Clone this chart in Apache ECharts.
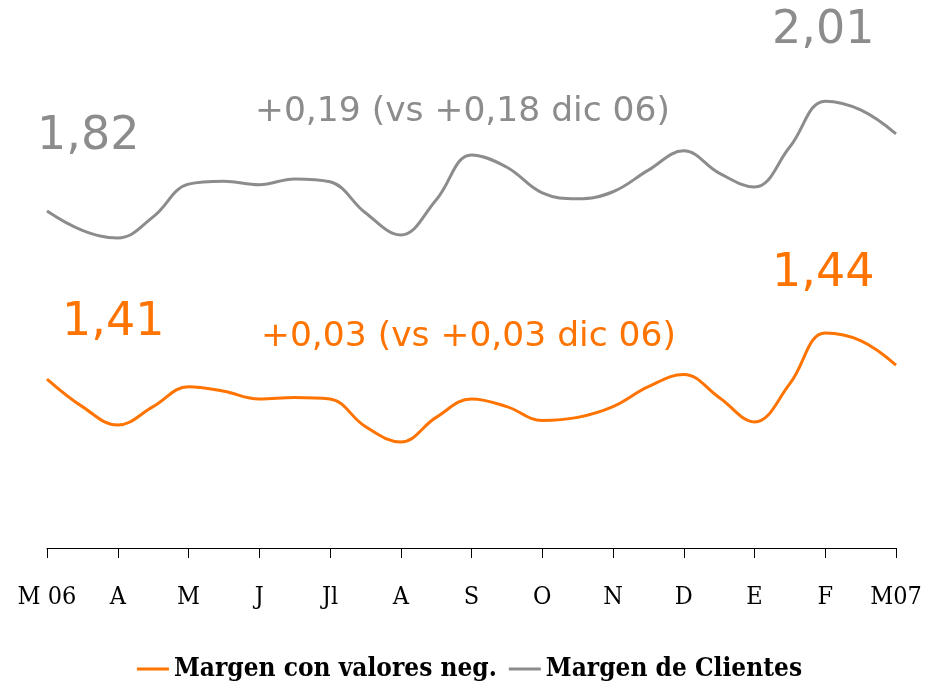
<!DOCTYPE html>
<html>
<head>
<meta charset="utf-8">
<script src="https://cdn.jsdelivr.net/npm/echarts@6/dist/echarts.min.js"></script>
<style>html,body{margin:0;padding:0;background:#fff;}#c{width:939px;height:693px;}</style>
</head>
<body>
<div id="c"></div>
<script>
// Month tick labels (one per month); data is sampled twice per month
const monthLabels = ['M 06','A','M','J','Jl','A','S','O','N','D','E','F','M07'];
const clientes = [1.820,1.787,1.774,1.810,1.866,1.871,1.865,1.875,1.870,1.817,1.779,1.839,1.916,1.895,1.851,1.841,1.853,1.890,1.923,1.885,1.861,1.930,2.008,1.993,1.952];
const valoresNeg = [1.410,1.392,1.380,1.392,1.405,1.402,1.397,1.398,1.397,1.379,1.369,1.385,1.397,1.392,1.383,1.385,1.392,1.405,1.413,1.398,1.382,1.407,1.440,1.435,1.419];
const seriesNames = ['Margen con valores neg.','Margen de Clientes'];
const annClientes = '+0,19 (vs +0,18 dic 06)';
const annNeg = '+0,03 (vs +0,03 dic 06)';

const categories = [];
monthLabels.forEach((m,i)=>{ categories.push(m); if(i<monthLabels.length-1) categories.push(''); });

const ORANGE = '#FF7300', GRAY = '#8C8C8C';
const fmt = v => v.toFixed(2).replace('.', ',');
const numFont = '"DejaVu Sans", sans-serif';

const chart = echarts.init(document.getElementById('c'));
chart.setOption({
  animation:false,
  backgroundColor:'#fff',
  grid:{left:47,right:43,top:0,bottom:145},
  legend:{
    bottom:6,left:'center',
    itemWidth:32,itemHeight:3,itemGap:12,
    icon:'rect',
    textStyle:{fontFamily:'"DejaVu Serif Condensed"',fontWeight:'bold',fontSize:26,color:'#000'},
    data:seriesNames
  },
  xAxis:{
    type:'category',boundaryGap:false,data:categories,
    axisLine:{lineStyle:{color:'#000',width:1}},
    axisTick:{length:10,interval:(i)=>i%2===0,lineStyle:{color:'#000'}},
    axisLabel:{interval:(i)=>i%2===0,margin:37,fontFamily:'"DejaVu Serif Condensed"',fontSize:25,color:'#000'},
    splitLine:{show:false}
  },
  yAxis:[
    {type:'value',min:1.243,max:2.1813,show:false,splitLine:{show:false}},
    {type:'value',min:1.2998,max:1.6572,show:false,splitLine:{show:false}}
  ],
  series:[
    {name:seriesNames[0],type:'line',yAxisIndex:1,data:valoresNeg,smooth:0.4,symbol:'none',
     lineStyle:{color:ORANGE,width:3},itemStyle:{color:ORANGE}},
    {name:seriesNames[1],type:'line',yAxisIndex:0,data:clientes,smooth:0.4,symbol:'none',
     lineStyle:{color:GRAY,width:3},itemStyle:{color:GRAY}}
  ],
  graphic:[
    {type:'text',left:37,top:114,style:{text:fmt(clientes[0]),font:'46px '+numFont,fill:GRAY}},
    {type:'text',left:772,top:8,style:{text:fmt(clientes[22]),font:'46px '+numFont,fill:GRAY}},
    {type:'text',left:62,top:300,style:{text:fmt(valoresNeg[0]),font:'46px '+numFont,fill:ORANGE}},
    {type:'text',left:772,top:251,style:{text:fmt(valoresNeg[22]),font:'46px '+numFont,fill:ORANGE}},
    {type:'text',left:255,top:95,style:{text:annClientes,font:'34.5px '+numFont,fill:GRAY}},
    {type:'text',left:261,top:320,style:{text:annNeg,font:'34.5px '+numFont,fill:ORANGE}}
  ]
});
</script>
</body>
</html>
